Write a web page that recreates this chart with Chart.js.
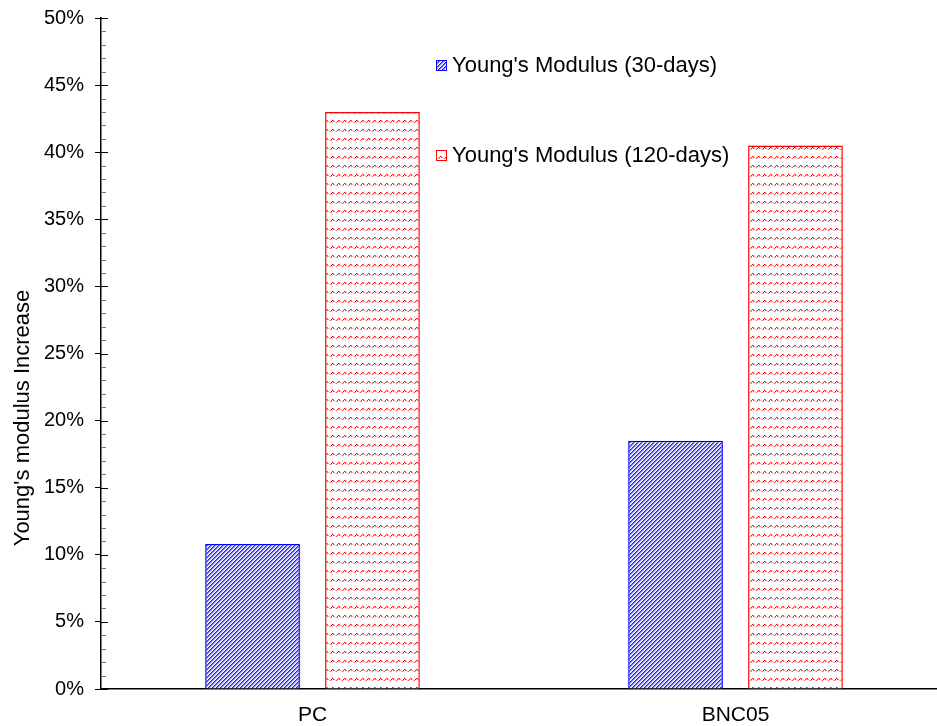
<!DOCTYPE html>
<html>
<head>
<meta charset="utf-8">
<script src="https://cdn.jsdelivr.net/npm/chart.js@4.4.1/dist/chart.umd.min.js"></script>
<style>
  html, body { margin: 0; padding: 0; background: #fff; overflow: hidden; }
  #wrap { width: 947px; height: 726px; position: relative; }
</style>
</head>
<body>
<div id="wrap"><canvas id="chart"></canvas></div>
<script>
const categories = ["PC", "BNC05"];
const seriesNames = ["Young's Modulus (30-days)", "Young's Modulus (120-days)"];
const modulus30 = [10.8, 18.5];
const modulus120 = [43.0, 40.5];
const yTicks = [0, 5, 10, 15, 20, 25, 30, 35, 40, 45, 50];
const yTitle = "Young's modulus Increase";

const FONT = "'Liberation Sans', Arial, sans-serif";

// hatch tiles, painted pixel by pixel
function makePattern(w, h, pixels) {
  const c = document.createElement("canvas");
  c.width = w; c.height = h;
  const ctx = c.getContext("2d");
  ctx.fillStyle = "#ffffff";
  ctx.fillRect(0, 0, w, h);
  pixels.forEach(([x, y, col]) => {
    ctx.fillStyle = col;
    ctx.fillRect(x, y, 1, 1);
  });
  return ctx.createPattern(c, "repeat");
}

const bluePattern = makePattern(4, 4, [
  [0, 3, "#2020ff"], [1, 2, "#2020ff"], [2, 1, "#2020ff"], [3, 0, "#2020ff"],
  [1, 3, "#7878ff"], [2, 2, "#7878ff"], [3, 1, "#7878ff"], [0, 0, "#7878ff"],
  [2, 3, "#c8c8ff"], [3, 2, "#c8c8ff"], [0, 1, "#c8c8ff"], [1, 0, "#c8c8ff"]
]);

const redPattern = makePattern(6, 9, [
  [0, 5, "#ff7070"], [1, 4, "#ff0000"], [2, 3, "#ff0000"], [3, 3, "#ff7070"],
  [3, 4, "#ff4040"], [4, 4, "#ff9090"], [5, 5, "#ffc0c0"], [1, 5, "#ffc0c0"]
]);

const legendPlugin = {
  id: "boxLegend",
  afterDraw(chart) {
    const ctx = chart.ctx;
    const rows = [
      { y: 65, fill: bluePattern, stroke: "#0000ff" },
      { y: 155, fill: redPattern, stroke: "#ff0000" }
    ];
    ctx.save();
    ctx.font = "22px " + FONT;
    ctx.textBaseline = "middle";
    chart.data.datasets.forEach((ds, i) => {
      const r = rows[i];
      ctx.fillStyle = r.fill;
      ctx.fillRect(436, r.y - 5, 11, 11);
      ctx.strokeStyle = r.stroke;
      ctx.lineWidth = 1;
      ctx.strokeRect(436.5, r.y - 4.5, 10, 10);
      ctx.fillStyle = "#000";
      ctx.fillText(ds.label, 452, r.y + 1);
    });
    ctx.restore();
  }
};

const axisExtrasPlugin = {
  id: "axisExtras",
  afterDraw(chart) {
    const y = chart.scales.y;
    const ctx = chart.ctx;
    const x0 = chart.chartArea.left;
    ctx.save();
    ctx.lineWidth = 1;
    for (let v = 0; v <= 50; v++) {
      const py = Math.round(y.getPixelForValue(v)) + 0.5;
      const major = v % 5 === 0;
      ctx.strokeStyle = major ? "#000" : "#777";
      ctx.beginPath();
      ctx.moveTo(x0, py);
      ctx.lineTo(x0 + (major ? 7 : 5), py);
      ctx.stroke();
    }
    // y title sits below the middle of the axis in the original
    ctx.translate(23, 418);
    ctx.rotate(-Math.PI / 2);
    ctx.font = "22px " + FONT;
    ctx.fillStyle = "#000";
    ctx.textAlign = "center";
    ctx.textBaseline = "middle";
    ctx.fillText(yTitle, 0, 0);
    ctx.restore();
  }
};

new Chart(document.getElementById("chart"), {
  type: "bar",
  data: {
    labels: categories,
    datasets: [
      {
        label: seriesNames[0],
        data: modulus30,
        backgroundColor: bluePattern,
        borderColor: "#0000ff",
        borderWidth: 1.5
      },
      {
        label: seriesNames[1],
        data: modulus120,
        backgroundColor: redPattern,
        borderColor: "#ff0000",
        borderWidth: 1.5
      }
    ]
  },
  options: {
    responsive: true,
    maintainAspectRatio: false,
    animation: false,
    layout: { padding: { top: 18, left: 0, right: 0, bottom: 0 } },
    datasets: {
      bar: { categoryPercentage: 0.567, barPercentage: 0.79 }
    },
    plugins: {
      legend: { display: false },
      tooltip: { enabled: false }
    },
    scales: {
      x: {
        grid: { display: true, drawOnChartArea: false, drawTicks: false },
        border: { display: true, color: "#000", width: 1.5 },
        ticks: {
          color: "#000",
          padding: 14,
          font: { family: FONT, size: 21 }
        },
        afterFit(scale) { scale.height = 37; }
      },
      y: {
        min: 0,
        max: 50,
        afterBuildTicks(scale) {
          scale.ticks = yTicks.map(v => ({ value: v }));
        },
        grid: { drawOnChartArea: false, tickLength: 6, color: "#000" },
        border: { display: true, color: "#000", width: 1.5 },
        ticks: {
          color: "#000",
          padding: 11,
          font: { family: FONT, size: 20 },
          callback: v => v + "%"
        },
        afterFit(scale) {
          scale.width = 101;
          scale.paddingTop = 0;
          scale.paddingBottom = 0;
        }
      }
    }
  },
  plugins: [legendPlugin, axisExtrasPlugin]
});
</script>
</body>
</html>
